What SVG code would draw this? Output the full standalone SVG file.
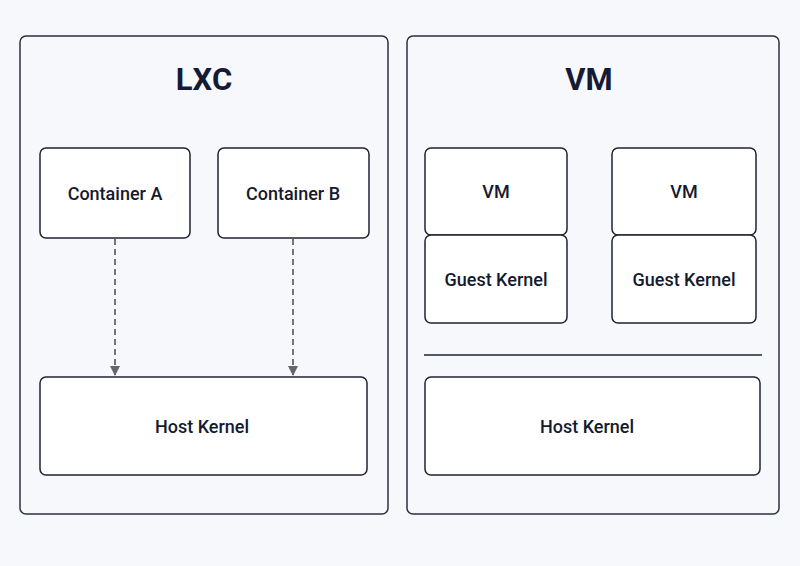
<svg xmlns="http://www.w3.org/2000/svg" width="800" height="566" viewBox="0 0 800 566">
<defs>
<style>
.panel{fill:#f7f8fb;stroke:#2b3040;stroke-width:1.5}
.box{fill:#fff;stroke:#1f2333;stroke-width:1.5}
.t{font-family:Roboto,"Liberation Sans",Arial,sans-serif;font-size:18px;font-weight:500;fill:#151a2e;text-anchor:middle;dominant-baseline:central}
.h{font-family:Roboto,"Liberation Sans",Arial,sans-serif;font-size:31px;font-weight:bold;fill:#151a35;text-anchor:middle;dominant-baseline:central}
.c{stroke:#666;stroke-width:1.8;stroke-dasharray:6,4;fill:none}
</style>
<marker id="ah" viewBox="0 0 10 10" refX="9" refY="5" markerWidth="10" markerHeight="10" markerUnits="userSpaceOnUse" orient="auto"><path d="M0,0 L10,5 L0,10 z" fill="#666"/></marker>
</defs>
<rect width="800" height="566" fill="#f7f8fb"/>
<g id="lxc"><rect class="panel" x="20" y="36" width="368" height="478" rx="6"/><text class="h" x="204" y="79">LXC</text></g>
<g id="vmpanel"><rect class="panel" x="407" y="36" width="372" height="478" rx="6"/><text class="h" x="589" y="79">VM</text></g>
<g id="containerA"><rect class="box" x="40" y="148" width="150" height="90" rx="6"/><text class="t" x="115" y="193">Container A</text></g>
<g id="containerB"><rect class="box" x="218" y="148" width="151" height="90" rx="6"/><text class="t" x="293" y="193">Container B</text></g>
<g id="hostKernelL"><rect class="box" x="40" y="377" width="327" height="98" rx="6"/><text class="t" x="202" y="426">Host Kernel</text></g>
<g id="vm1"><rect class="box" x="425" y="148" width="142" height="87" rx="6"/><text class="t" x="496" y="191">VM</text></g>
<g id="gk1"><rect class="box" x="425" y="235" width="142" height="88" rx="6"/><text class="t" x="496" y="279">Guest Kernel</text></g>
<g id="vm2"><rect class="box" x="612" y="148" width="144" height="87" rx="6"/><text class="t" x="684" y="191">VM</text></g>
<g id="gk2"><rect class="box" x="612" y="235" width="144" height="88" rx="6"/><text class="t" x="684" y="279">Guest Kernel</text></g>
<g id="separator"><line x1="424" y1="355" x2="762" y2="355" stroke="#1f2333" stroke-width="1.5"/></g>
<g id="hostKernelR"><rect class="box" x="425" y="377" width="335" height="98" rx="6"/><text class="t" x="587" y="426">Host Kernel</text></g>
<g id="connectors">
<line class="c" x1="115" y1="239" x2="115" y2="375" marker-end="url(#ah)"/>
<line class="c" x1="293" y1="239" x2="293" y2="375" marker-end="url(#ah)"/>
</g>
</svg>
